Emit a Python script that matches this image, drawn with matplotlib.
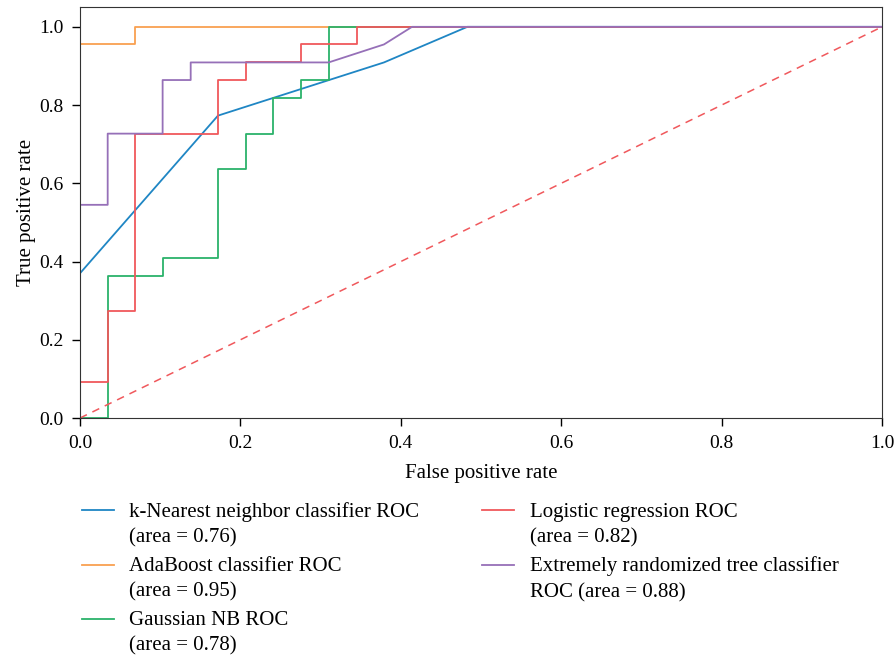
import numpy as np
import matplotlib.pyplot as plt
from matplotlib.legend_handler import HandlerLine2D

plt.rcParams['font.family'] = ['Liberation Serif', 'DejaVu Serif']

# ---------------- data --------------------------------------------
knn_fpr = [0.0, 0.0, 0.172, 0.379, 0.483, 1.0]
knn_tpr = [0.0, 0.37, 0.773, 0.909, 1.0, 1.0]

ada_fpr = [0.0, 0.0, 0.069, 0.069, 1.0]
ada_tpr = [0.0, 0.955, 0.955, 1.0, 1.0]

gnb_fpr = [0.0, 0.0345, 0.0345, 0.103, 0.103, 0.172, 0.172, 0.207, 0.207,
           0.241, 0.241, 0.276, 0.276, 0.310, 0.310, 1.0]
gnb_tpr = [0.0, 0.0, 0.364, 0.364, 0.409, 0.409, 0.636, 0.636, 0.727,
           0.727, 0.818, 0.818, 0.864, 0.864, 1.0, 1.0]

lr_fpr = [0.0, 0.0, 0.0345, 0.0345, 0.069, 0.069, 0.172, 0.172, 0.207, 0.207,
          0.276, 0.276, 0.345, 0.345, 1.0]
lr_tpr = [0.0, 0.091, 0.091, 0.273, 0.273, 0.727, 0.727, 0.864, 0.864, 0.909,
          0.909, 0.955, 0.955, 1.0, 1.0]

et_fpr = [0.0, 0.0, 0.0345, 0.0345, 0.103, 0.103, 0.138, 0.138, 0.310, 0.379,
          0.414, 1.0]
et_tpr = [0.0, 0.545, 0.545, 0.727, 0.727, 0.864, 0.864, 0.909, 0.909, 0.955,
          1.0, 1.0]

labels = ["k-Nearest neighbor classifier ROC\n(area = 0.76)",
          "AdaBoost classifier ROC\n(area = 0.95)",
          "Gaussian NB ROC\n(area = 0.78)",
          "Logistic regression ROC\n(area = 0.82)",
          "Extremely randomized tree classifier\nROC (area = 0.88)"]
colors = ["#1f86c4", "#f9a050", "#2bb26a", "#f0585c", "#9670b8"]
# ------------------------------------------------------------------


class TopLineHandler(HandlerLine2D):
    # put the legend line next to the first text line, not the middle
    def create_artists(self, legend, orig_handle, xdescent, ydescent,
                       width, height, fontsize, trans):
        arts = super().create_artists(legend, orig_handle, xdescent, ydescent,
                                      width, height, fontsize, trans)
        for a in arts:
            y = np.asarray(a.get_ydata(), dtype=float)
            a.set_ydata(y + 0.68 * fontsize)
        return arts


fig = plt.figure(figsize=(8.96, 6.55), dpi=100)
ax = fig.add_axes([0.0893, 0.3618, 0.8951, 0.6271])

curves = [(knn_fpr, knn_tpr), (ada_fpr, ada_tpr), (gnb_fpr, gnb_tpr),
          (lr_fpr, lr_tpr), (et_fpr, et_tpr)]
handles = []
for (fx, fy), lab, c in zip(curves, labels, colors):
    h, = ax.plot(fx, fy, color=c, lw=1.3, label=lab)
    handles.append(h)

ax.plot([0, 1], [0, 1], color="#f0585c", lw=1.1, ls=(0, (5, 4)))

ax.set_xlim(0, 1)
ax.set_ylim(0, 1.05)
ax.set_xticks(np.arange(0, 1.01, 0.2))
ax.set_yticks(np.arange(0, 1.01, 0.2))
ax.tick_params(labelsize=14, length=6, width=1, direction="out", pad=6)
for s in ax.spines.values():
    s.set_color("#333333")
ax.set_xlabel("False positive rate", fontsize=15, labelpad=9)
ax.set_ylabel("True positive rate", fontsize=15, labelpad=2)

leg = fig.legend(handles=handles, labels=labels, loc="upper left",
                 bbox_to_anchor=(0.091, 0.2335), ncol=2, frameon=False,
                 fontsize=15, handlelength=1.55, handletextpad=0.75,
                 columnspacing=3.0, labelspacing=0.45, borderpad=0,
                 borderaxespad=0,
                 handler_map={h: TopLineHandler() for h in handles})
for t in leg.get_texts():
    t.set_linespacing(1.45)

fig.savefig("out.png", dpi=100)
